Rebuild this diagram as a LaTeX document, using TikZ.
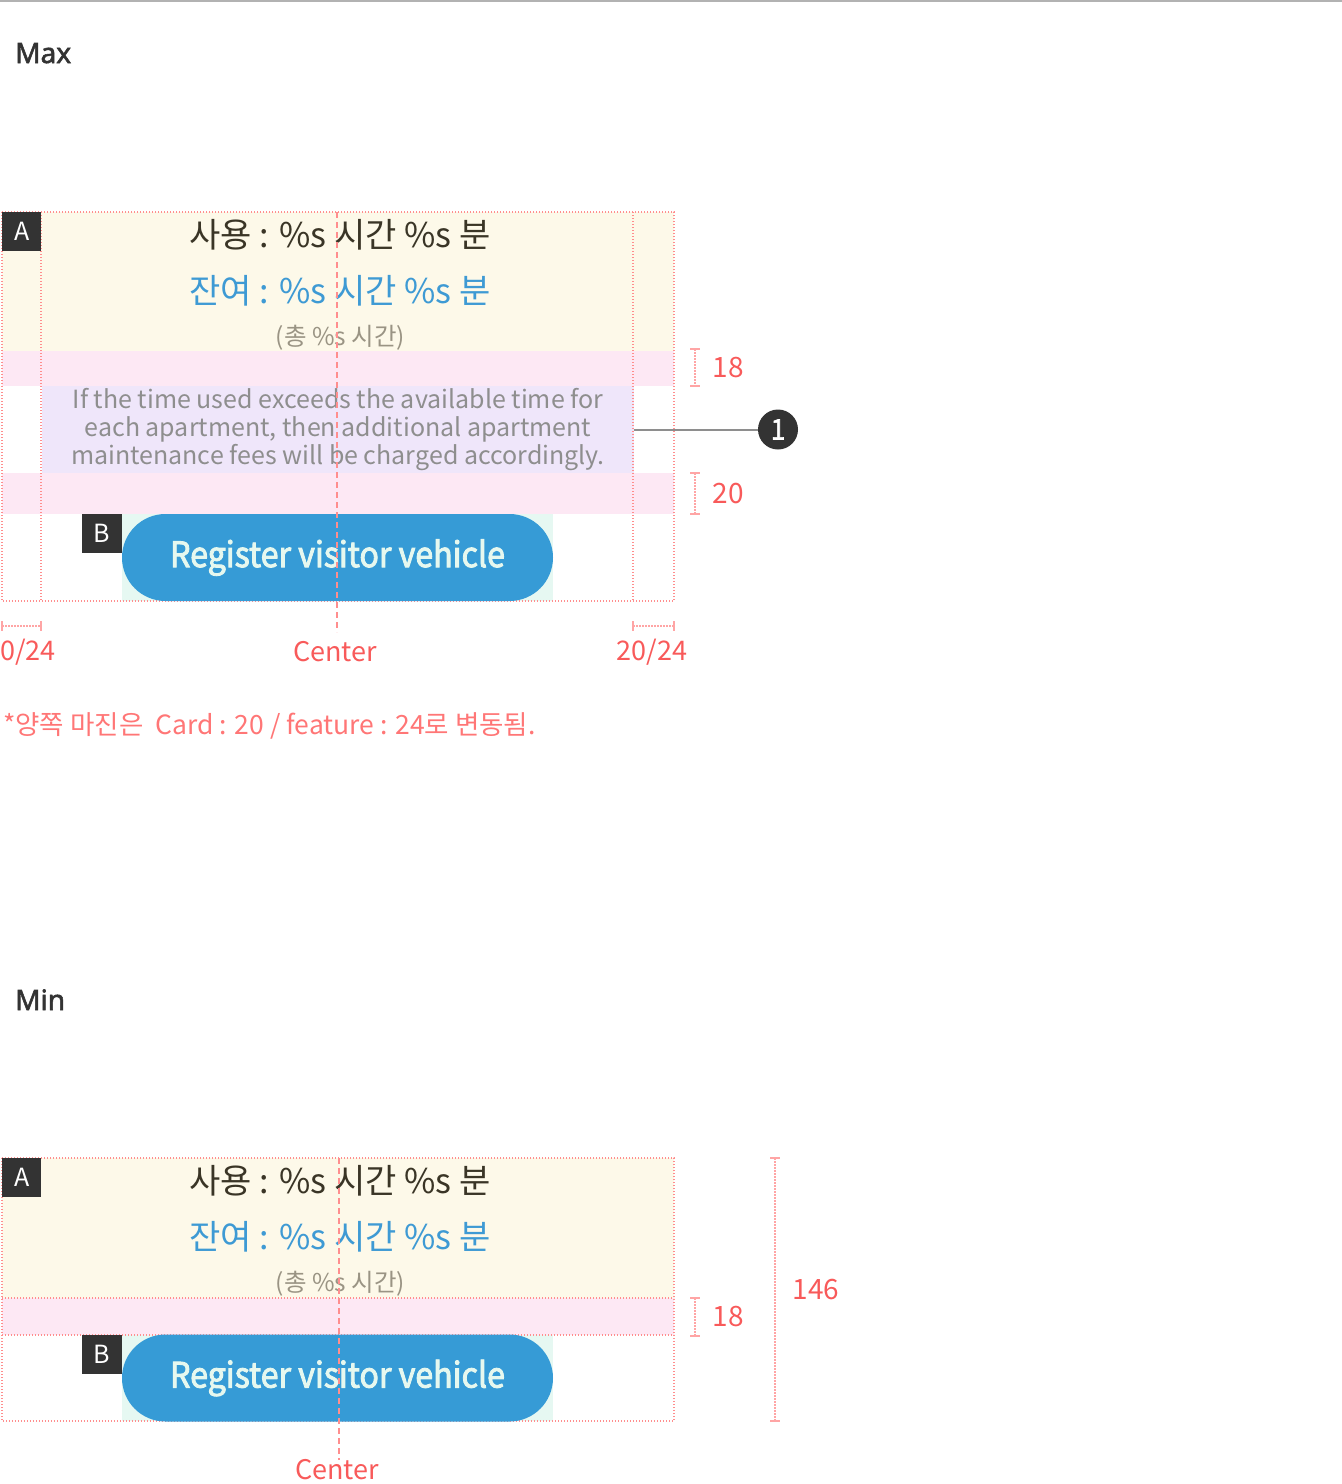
\documentclass[tikz,border=0pt]{standalone}
\usepackage{fontspec}
\setmainfont{Noto Sans CJK KR}
\newfontfamily\headfont[FakeBold=2]{Noto Sans}
\newfontfamily\btnfont[FakeStretch=0.92, FakeBold=2.5]{Noto Sans CJK KR}
\usetikzlibrary{positioning}

\definecolor{guidered}{HTML}{FF8E8E}
\definecolor{dimred}{HTML}{F85A5A}
\definecolor{notered}{HTML}{FF7676}
\definecolor{cream}{HTML}{FDF9E9}
\definecolor{bandpink}{HTML}{FDE8F4}
\definecolor{lilac}{HTML}{EFE6FA}
\definecolor{mint}{HTML}{E6F8F2}
\definecolor{btnblue}{HTML}{369BD6}
\definecolor{btntext}{HTML}{E6F8EF}
\definecolor{tagdark}{HTML}{333333}
\definecolor{usedtext}{HTML}{3A3526}
\definecolor{lefttext}{HTML}{3E9AD4}
\definecolor{totaltext}{HTML}{9A9484}
\definecolor{msgtext}{HTML}{8E8E8E}

\tikzstyle{guide}=[draw=guidered, line width=1.2pt, dash pattern=on 1.2pt off 1.8pt]
\tikzstyle{centerline}=[draw=guidered, line width=1.2pt, dash pattern=on 6pt off 4pt]
\tikzstyle{dimline}=[draw=guidered!80, line width=1.2pt, dash pattern=on 1.5pt off 1.5pt]
\tikzstyle{dimcap}=[draw=guidered!80, line width=1.2pt]
\tikzstyle{tagbox}=[fill=tagdark, text=white, minimum size=39pt, inner sep=0pt, font=\fontsize{25}{25}\selectfont]
\tikzstyle{heading}=[anchor=base west, inner sep=0pt, text=tagdark, font=\headfont\fontsize{28}{28}\selectfont]
\tikzstyle{usedline}=[anchor=base, text=usedtext, font=\fontsize{34}{34}\selectfont]
\tikzstyle{leftline}=[anchor=base, text=lefttext, font=\fontsize{34}{34}\selectfont]
\tikzstyle{totalline}=[anchor=base, text=totaltext, font=\fontsize{24.5}{24.5}\selectfont]
\tikzstyle{msgbox}=[fill=lilac, text=msgtext, minimum width=592pt, minimum height=87pt, inner sep=0pt, align=center, font=\fontsize{25}{28}\selectfont]
\tikzstyle{button}=[fill=btnblue, text=btntext, minimum width=431pt, minimum height=87pt, rounded corners=43.5pt, inner sep=0pt, font=\btnfont\fontsize{35}{35}\selectfont]
\tikzstyle{dimtext}=[anchor=west, text=dimred, font=\fontsize{28}{28}\selectfont]
\tikzstyle{marktext}=[text=dimred, font=\fontsize{27}{27}\selectfont]
\tikzstyle{marker}=[circle, fill=tagdark, text=white, minimum size=40pt, inner sep=0pt, font=\btnfont\fontsize{28}{28}\selectfont]
\tikzstyle{pointer}=[draw=msgtext, line width=2pt]
\newcommand{\pxunit}{1pt}

\begin{document}
\begin{tikzpicture}[x=\pxunit, y=-\pxunit]
    \useasboundingbox (0,0) rectangle (1342,1484);
    \draw[line width=2.5pt, color=black!30] (0,1) -- (1342,1);

    % background bands of both cards
    \fill[cream] (2,212) rectangle (674,351);
    \fill[bandpink] (2,351) rectangle (674,386);
    \fill[bandpink] (2,473) rectangle (674,514);
    \fill[mint] (122,514) rectangle (553,601);
    \fill[cream] (2,1158) rectangle (674,1298);
    \fill[bandpink] (2,1298) rectangle (674,1335);
    \fill[mint] (122,1335) rectangle (553,1421);

    \node[heading] (maxhead) at (15,63) {Max};
    \node[heading] (minhead) at (15,1010) {Min};

    \node[msgbox] (msg) at (338,429.5) {If the time used exceeds the available time for\\each apartment, then additional apartment\\maintenance fees will be charged accordingly.};

    % guides
    \draw[guide] (2,212) rectangle (674,601);
    \draw[guide] (41,212) -- (41,601);
    \draw[guide] (633,212) -- (633,601);
    \draw[guide] (2,1158) rectangle (674,1421);
    \draw[guide] (2,1298) -- (674,1298);
    \draw[guide] (2,1335) -- (674,1335);

    % header texts, the same in both cards
    \foreach \top/\card in {212/max, 1158/min} {
        \node[usedline] (used\card) at (340,\top+35) {사용 : \%s 시간 \%s 분};
        \node[leftline] (left\card) at (340,\top+91) {잔여 : \%s 시간 \%s 분};
        \node[totalline] (total\card) at (340.5,\top+133) {(총 \%s 시간)};
        \node[tagbox, anchor=north west] (tagA\card) at (2,\top) {A};
    }

    \node[button] (btnmax) at (337.5,557.5) {Register visitor vehicle};
    \node[button] (btnmin) at (337.5,1378) {Register visitor vehicle};
    \node[tagbox, minimum width=40pt, anchor=north east] (tagBmax) at (btnmax.north west) {B};
    \node[tagbox, minimum width=40pt, anchor=north east] (tagBmin) at (btnmin.north west) {B};

    % center lines
    \draw[centerline] (337,212) -- (337,632);
    \draw[centerline] (339,1158) -- (339,1460);
    \node[marktext] (ctrmax) at (335,652) {Center};
    \node[marktext] (ctrmin) at (337,1470) {Center};

    % callout
    \node[marker] (mark1) at (778,429.5) {1};
    \draw[pointer] (msg.east) -- (mark1.west);

    % vertical dimensions
    \foreach \x/\ya/\yb/\val [count=\i] in {695/349/386/18, 695/473/514/20, 695/1298/1336/18, 775/1158/1421/146} {
        \draw[dimline] (\x,\ya) -- (\x,\yb);
        \draw[dimcap] (\x-5,\ya) -- (\x+5,\ya) (\x-5,\yb) -- (\x+5,\yb);
        \node[dimtext] (dim\i) at (\x+14,{(\ya+\yb)/2}) {\val};
    }

    % side margins
    \draw[dimline] (2,626) -- (41,626);
    \draw[dimcap] (2,621) -- (2,631) (41,621) -- (41,631);
    \draw[dimline] (633,626) -- (674,626);
    \draw[dimcap] (633,621) -- (633,631) (674,621) -- (674,631);
    \node[marktext] (mleft) at (28,652) {0/24};
    \node[marktext] (mright) at (652,652) {20/24};

    \node[anchor=west, inner sep=0pt, text=notered, font=\fontsize{26.5}{26.5}\selectfont] (note) at (3,726) {*양쪽 마진은\ \ Card : 20 / feature : 24로 변동됨.};
\end{tikzpicture}
\end{document}
